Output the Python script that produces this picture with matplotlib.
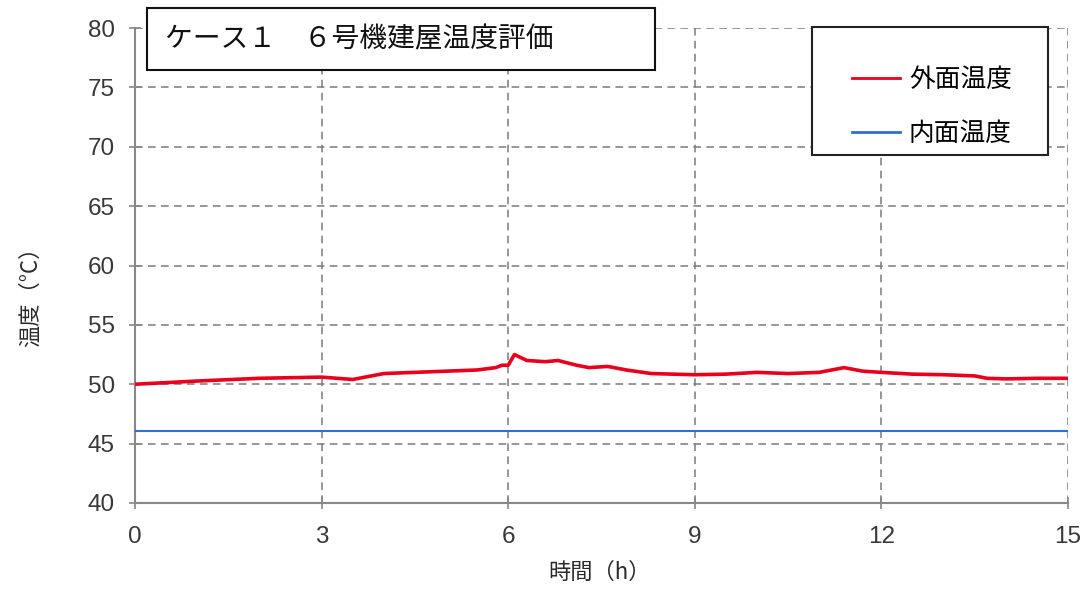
import matplotlib
matplotlib.use("Agg")
import matplotlib.pyplot as plt
from matplotlib.patches import Rectangle

plt.rcParams['font.family'] = ['Noto Sans CJK JP', 'DejaVu Sans']

# Data
hours = [0, 1, 2, 3, 3.5, 4, 4.5, 5, 5.5, 5.8, 5.9, 6.0, 6.1, 6.3, 6.6, 6.8, 7.1, 7.3,
         7.6, 7.9, 8.3, 9.0, 9.5, 10.0, 10.5, 11.0, 11.4, 11.7, 12.0, 12.5, 13.0,
         13.5, 13.7, 14.0, 14.5, 15.0]
outer_temp = [50.0, 50.27, 50.5, 50.6, 50.4, 50.9, 51.0, 51.1, 51.2, 51.4, 51.6, 51.6,
              52.5, 52.0, 51.9, 52.0, 51.6, 51.4, 51.5, 51.2, 50.9, 50.8, 50.85, 51.0,
              50.9, 51.0, 51.4, 51.1, 51.0, 50.85, 50.8, 50.7, 50.5, 50.45, 50.5, 50.5]
inner_hours = [0, 15]
inner_temp = [46.1, 46.1]

title_text = "ケース１　６号機建屋温度評価"
series_names = ["外面温度", "内面温度"]
xticks = [0, 3, 6, 9, 12, 15]
yticks = [40, 45, 50, 55, 60, 65, 70, 75, 80]

fig = plt.figure(figsize=(10.88, 5.9), dpi=100)
ax = fig.add_axes([0.1241, 0.1475, 0.8575, 0.805])

ax.plot(hours, outer_temp, color='#e8001c', lw=2.6, label=series_names[0], zorder=3)
ax.plot(inner_hours, inner_temp, color='#2f6fcf', lw=1.5, label=series_names[1], zorder=3)

ax.set_xlim(0, 15)
ax.set_ylim(40, 80)
ax.set_xticks(xticks)
ax.set_yticks(yticks)
ax.grid(True, color='#7a7a7a', linestyle=(0, (5, 3.5)), lw=1.1)
for s in ['top', 'right']:
    ax.spines[s].set_visible(False)
for s in ['left', 'bottom']:
    ax.spines[s].set_color('#888888')
    ax.spines[s].set_linewidth(1.5)
ax.tick_params(direction='inout', length=9, color='#888888', labelsize=17.5,
               labelcolor='#383838', width=1.2)
ax.tick_params(axis='x', pad=12)
ax.tick_params(axis='y', pad=10)
for lbl in ax.get_xticklabels() + ax.get_yticklabels():
    lbl.set_family(['Liberation Sans', 'DejaVu Sans'])

ax.set_xlabel("時間（h）", fontsize=16, color='#2a2a2a', va='center')
ax.xaxis.set_label_coords(0.498, -0.147)
ax.set_ylabel("温度（°C）", fontsize=16, color='#2a2a2a', va='center')
ax.yaxis.set_label_coords(-0.112, 0.446)

# Legend box and legend entries
ax.add_patch(Rectangle((812/1088, 1 - 155/590), 236/1088, 128/590,
                       transform=fig.transFigure, facecolor='white',
                       edgecolor='#222222', lw=1.5, zorder=4, clip_on=False))
leg = ax.legend(loc='upper left', bbox_to_anchor=(0.7385, 0.977), fontsize=18.5,
                frameon=False, handlelength=1.85, labelspacing=1.1,
                borderpad=1.1, handletextpad=0.35, borderaxespad=0)
leg.set_zorder(5)
for h in leg.get_lines():
    h.set_linewidth(2.0)

# Title box
fig.patches.append(Rectangle((147/1088, 1 - 70/590), 508/1088, 62/590,
                             transform=fig.transFigure, facecolor='white',
                             edgecolor='#111111', lw=1.5, zorder=5))
fig.text(165/1088, 1 - 39/590, title_text, fontsize=20, va='center', ha='left',
         color='#111111', zorder=6)

fig.savefig("out.png", dpi=100)
